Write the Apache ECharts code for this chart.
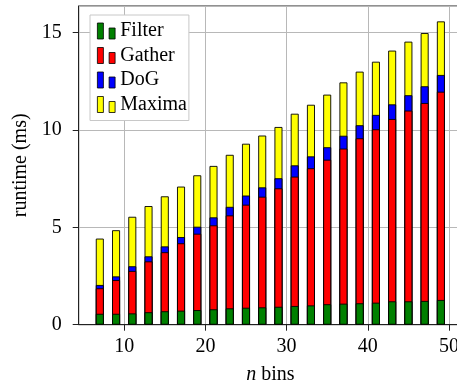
<!DOCTYPE html>
<html>
<head>
<meta charset="utf-8">
<script src="https://cdn.jsdelivr.net/npm/echarts@6/dist/echarts.min.js"></script>
<style>html,body{margin:0;padding:0;background:#fff}#c{width:457px;height:383px}</style>
</head>
<body>
<div id="c"></div>
<script>
const bins = [7,9,11,13,15,17,19,21,23,25,27,29,31,33,35,37,39,41,43,45,47,49];
const filterMs = [0.56,0.56,0.58,0.64,0.69,0.72,0.75,0.79,0.84,0.87,0.89,0.92,0.96,0.99,1.05,1.08,1.10,1.13,1.20,1.20,1.22,1.27];
const gatherMs = [1.31,1.73,2.18,2.61,3.03,3.46,3.92,4.31,4.77,5.29,5.68,6.08,6.64,7.04,7.42,7.96,8.47,8.90,9.36,9.79,10.16,10.69];
const dogMs = [0.17,0.19,0.24,0.26,0.30,0.32,0.36,0.41,0.44,0.47,0.48,0.52,0.58,0.61,0.64,0.66,0.67,0.74,0.75,0.79,0.86,0.86];
const maximaMs = [2.38,2.37,2.54,2.58,2.57,2.59,2.64,2.64,2.67,2.66,2.66,2.63,2.65,2.65,2.70,2.74,2.75,2.73,2.76,2.75,2.73,2.75];
const seriesNames = ['Filter','Gather','DoG','Maxima'];
const seriesColors = ['#008000','#ff0000','#0000ff','#ffff00'];
const yTicks = [0,5,10,15];

const FONT = 'Liberation Serif';
const FS = 20;
const parts = [filterMs, gatherMs, dogMs, maximaMs];
// cumulative stack tops (stacking done here; drawn as overlapping bars)
const cum = [];
parts.forEach((arr, k) => {
  cum.push(arr.map((v, i) => +(v + (k ? cum[k-1][i] : 0)).toFixed(3)));
});
const order = [3, 2, 1, 0]; // tallest first so lower segments are painted over
const chart = echarts.init(document.getElementById('c'), null, {renderer:'canvas'});
chart.setOption({
  animation: false,
  backgroundColor: '#fff',
  grid: {left: 78.7, top: 6, width: 383.3, height: 318.7, show: true, borderColor: '#222', borderWidth: 1,
    containLabel: false, outerBoundsMode: 'none'},
  legend: {
    orient: 'vertical', left: 90, top: 15,
    padding: [6, 2, 6, 7],
    backgroundColor: '#fff', borderColor: '#c8c8c8', borderWidth: 1,
    itemWidth: 18, itemHeight: 16, itemGap: 4.5,
    icon: 'path://M0,0H6V16H0Z M11.7,5H17.7V16H11.7Z',
    itemStyle: {borderColor: '#000', borderWidth: 0.8},
    textStyle: {fontFamily: FONT, fontSize: FS, color: '#000', lineHeight: 19},
    data: seriesNames
  },
  xAxis: {
    type: 'value', min: 4.4, max: 51.6, splitNumber: 5,
    name: '{i|n} bins', nameLocation: 'middle', nameGap: 40,
    nameTextStyle: {fontFamily: FONT, fontSize: FS, color: '#000', rich: {i: {fontFamily: FONT, fontSize: FS, fontStyle: 'italic', color: '#000'}}},
    axisLine: {show: true, lineStyle: {color: '#222', width: 1}},
    axisTick: {show: true, inside: false, length: 6, lineStyle: {color: '#222'}},
    axisLabel: {fontFamily: FONT, fontSize: FS, color: '#000', margin: 12, showMinLabel: false, showMaxLabel: false},
    splitLine: {show: true, lineStyle: {color: '#b8b8b8', width: 1}}
  },
  yAxis: {
    type: 'value', min: 0, max: 16.36, interval: 5,
    name: 'runtime (ms)', nameLocation: 'middle', nameGap: 48, nameRotate: 90,
    nameTextStyle: {fontFamily: FONT, fontSize: FS, color: '#000'},
    axisLine: {show: true, lineStyle: {color: '#222', width: 1}},
    axisTick: {show: true, inside: false, length: 6, lineStyle: {color: '#222'}},
    axisLabel: {fontFamily: FONT, fontSize: FS, color: '#000', margin: 17, showMaxLabel: false,
      formatter: v => yTicks.includes(v) ? String(v) : ''},
    splitLine: {show: true, lineStyle: {color: '#b8b8b8', width: 1}}
  },
  series: order.map(k => ({
    name: seriesNames[k], type: 'bar', barWidth: 8, barGap: '-100%',
    itemStyle: {color: seriesColors[k], borderColor: '#000', borderWidth: 0.9},
    data: bins.map((b, i) => [b, cum[k][i]])
  }))
});
</script>
</body>
</html>
